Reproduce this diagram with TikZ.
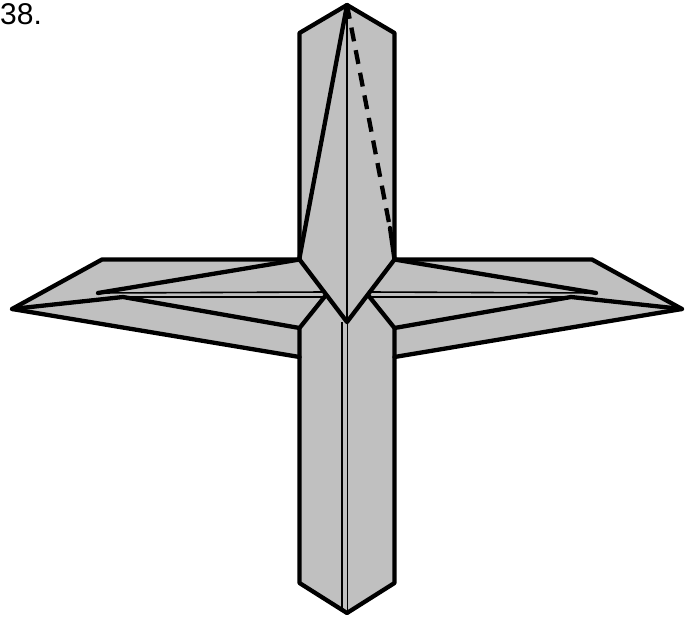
\documentclass[tikz,border=0pt]{standalone}
\usepackage{fontspec}
\setmainfont{Liberation Sans}
\begin{document}
\begin{tikzpicture}[x=1pt,y=-1pt,
  edge/.style={line width=4.3pt,line join=round,line cap=round},
  crease/.style={line width=1.6pt},
  paper/.style={fill={rgb,255:red,192;green,192;blue,192}}]
\useasboundingbox (0,0) rectangle (691,618);
% key points of the folded model
\coordinate (T)   at (347,5);
\coordinate (UL)  at (299.5,33);
\coordinate (UR)  at (394.5,33);
\coordinate (CL)  at (299.5,259.5);
\coordinate (CR)  at (394.5,259.5);
\coordinate (V)   at (347,322);
\coordinate (LTL) at (102,259.5);
\coordinate (LT)  at (12,309);
\coordinate (LB)  at (299.5,357);
\coordinate (RTR) at (592,259.5);
\coordinate (RT)  at (682,309);
\coordinate (RB)  at (394.5,357);
\coordinate (ML)  at (299.5,328);
\coordinate (MR)  at (394.5,328);
\coordinate (PL)  at (326,295);
\coordinate (PR)  at (368,295);
\coordinate (BL)  at (299.5,583);
\coordinate (BR)  at (394.5,583);
\coordinate (B)   at (347,613);
\coordinate (AL)  at (98,293);
\coordinate (AR)  at (596,293);
\coordinate (KL)  at (123,297);
\coordinate (KR)  at (571,297);
\coordinate (DE)  at (390,228);
% paper surface
\fill[paper] (T) -- (UR) -- (CR) -- (RTR) -- (RT) -- (RB) -- (BR) -- (B)
  -- (BL) -- (LB) -- (LT) -- (LTL) -- (CL) -- (UL) -- cycle;
% thin creases
\draw[crease] (T) -- (V);
\draw[crease] (342,322) -- (342,610);
\draw[crease] (347.5,322) -- (347.5,613);
\draw[crease] (AL) -- (324.2,292) (KL) -- (328,297);
\draw[crease] (AR) -- (369.8,292) (KR) -- (366,297);
% upper arm
\draw[edge] (CL) -- (UL) -- (T) -- (UR) -- (CR);
\draw[edge] (CL) -- (V) -- (CR);
\draw[edge] (T) -- (299.5,258);
\draw[edge,dash pattern=on 14pt off 9pt,line cap=butt] (T) -- (DE);
\draw[edge] (DE) -- (CR);
% side arms
\draw[edge] (CL) -- (LTL) -- (LT) -- (LB);
\draw[edge] (CR) -- (RTR) -- (RT) -- (RB);
\draw[edge] (CL) -- (AL);
\draw[edge] (CR) -- (AR);
\draw[edge] (LT) -- (KL) -- (ML);
\draw[edge] (RT) -- (KR) -- (MR);
% lower arm
\draw[edge] (PL) -- (ML) -- (BL) -- (B) -- (BR) -- (MR) -- (PR);
% step number
\node[anchor=base west,inner sep=0pt,font=\fontsize{30}{30}\selectfont] (num) at (0,24.5) {38.};
\end{tikzpicture}
\end{document}
